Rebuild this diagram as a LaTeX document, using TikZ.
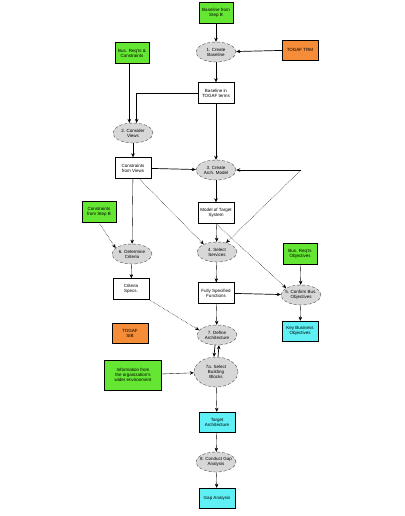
\documentclass[tikz,border=0pt]{standalone}
\usepackage{fontspec}
\setmainfont{Liberation Sans}
\usetikzlibrary{shapes.geometric, arrows.meta}

\definecolor{reqgreen}{RGB}{100,230,50}
\definecolor{trmorange}{RGB}{245,140,55}
\definecolor{outcyan}{RGB}{95,240,245}
\definecolor{stepgray}{RGB}{215,215,215}

\begin{document}
\begin{tikzpicture}[x=1pt, y=-1pt, >={Stealth[length=4pt, width=3.5pt]}, font=\fontsize{4.5}{5}\selectfont,
    every node/.style={align=center, inner sep=1pt},
    inbox/.style={rectangle, draw, fill=reqgreen, minimum width=34pt, minimum height=21pt},
    refbox/.style={rectangle, draw, fill=trmorange, minimum width=36pt, minimum height=20pt},
    outbox/.style={rectangle, draw, fill=outcyan, minimum width=36pt, minimum height=20pt},
    databox/.style={rectangle, draw, fill=white, minimum width=36pt, minimum height=21pt},
    stepnode/.style={ellipse, draw=black!70, densely dashed, fill=stepgray, minimum width=40pt, minimum height=20pt, inner xsep=-3pt, inner ysep=0pt},
    flow/.style={->, line width=0.35pt},
    link/.style={->, line width=0.7pt},
    hint/.style={->, line width=0.5pt, densely dotted}]
    \useasboundingbox (0,0) rectangle (404,516);

    % inputs and steps
    \node[inbox] (basestepb) at (216,13) {Baseline from\\Step B};
    \node[stepnode] (s1) at (216,52) {1. Create\\Baseline};
    \node[refbox] (trm) at (300,50) {TOGAF TRM};
    \node[inbox] (busreq) at (132,53) {Bus. Req'ts \&\\Constraints};
    \node[databox] (basetogaf) at (216,93) {Baseline in\\TOGAF terms};
    \node[stepnode] (s2) at (133,133) {2. Consider\\Views};
    \node[databox] (consviews) at (133,168) {Constraints\\from Views};
    \node[stepnode] (s3) at (216,170) {3. Create\\Arch. Model};
    \coordinate (loop) at (301,170);
    \node[databox] (model) at (216,213) {Model of Target\\System};
    \node[inbox] (consstepb) at (99,212) {Constraints\\from Step B};
    \node[stepnode] (s4) at (217,252) {4. Select\\Services};
    \node[stepnode] (s6) at (132,254) {6. Determine\\Criteria};
    \node[inbox] (busobj) at (300,254) {Bus. Req'ts\\Objectives};
    \node[databox] (critspec) at (131,289) {Criteria\\Specs.};
    \node[databox] (fullspec) at (216,293) {Fully Specified\\Functions};
    \node[stepnode] (s5) at (301,295) {5. Confirm Bus.\\Objectives};
    \node[refbox] (sib) at (130,333) {TOGAF\\SIB};
    \node[stepnode] (s7) at (217,335) {7. Define\\Architecture};
    \node[outbox] (keyobj) at (300,331) {Key Business\\Objectives};
    \node[inbox, minimum width=57pt, minimum height=30pt] (wider) at (133,375) {Information from\\the organization's\\wider environment};
    \node[stepnode, minimum width=44pt, minimum height=30pt] (s7a) at (216,372) {7a. Select\\Building\\Blocks};
    \node[outbox] (target) at (217,422) {Target\\Architecture};
    \node[stepnode] (s8) at (216,462) {8. Conduct Gap\\Analysis};
    \node[outbox] (gap) at (217,498) {Gap Analysis};

    % connectors
    \draw[flow] (basestepb) -- (s1);
    \draw[link] (trm) -- (s1);
    \draw[flow] (s1) -- (basetogaf);
    \draw[link] (busreq.south -| s2.110) -- (s2.110);
    \draw[link] (basetogaf.west) -| (s2.70);
    \draw[flow] (basetogaf) -- (s3);
    \draw[flow] (s2) -- (consviews);
    \draw[link] (consviews) -- (s3);
    \draw[link] (loop) -- (s3);
    \draw[hint] (loop) -- (s4.45);
    \draw[flow] (s3) -- (model);
    \draw[flow] (model) -- (s4);
    \draw[hint] (consviews.-60) -- (s4.150);
    \draw[hint] (model.south) -- (s5.155);
    \draw[hint] (consstepb.south) -- (s6.160);
    \draw[flow] (consviews) -- (s6);
    \draw[flow] (s6) -- (critspec);
    \draw[hint] (critspec.south east) -- (s7.165);
    \draw[flow] (s4) -- (fullspec);
    \draw[link] (fullspec) -- (s5);
    \draw[flow] (busobj) -- (s5);
    \draw[flow] (s5) -- (keyobj);
    \draw[flow] (fullspec) -- (s7);
    \draw[link] ([xshift=-2pt]s7.south) -- ([xshift=-2pt]s7a.north);
    \draw[link] ([xshift=2pt]s7a.north) -- ([xshift=2pt]s7.south);
    \draw[flow] (wider) -- (s7a);
    \draw[flow] (s7a) -- (target);
    \draw[flow] (target) -- (s8);
    \draw[flow] (s8) -- (gap);
\end{tikzpicture}
\end{document}
